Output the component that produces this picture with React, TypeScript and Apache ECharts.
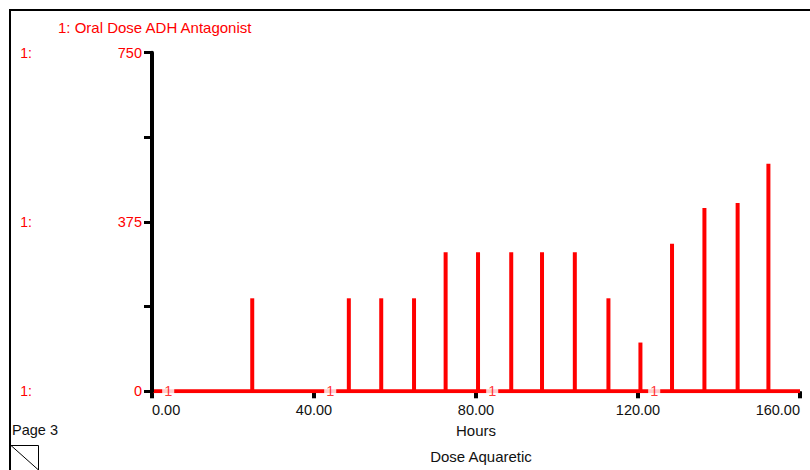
import React, { useEffect, useRef } from "react";
import * as echarts from "echarts";

const doseHours = [24.75, 48.6, 56.6, 64.7, 72.5, 80.5, 88.7, 96.3, 104.4, 112.7, 120.6, 128.4, 136.4, 144.6, 152.2];
const doseValues = [206, 206, 206, 206, 308, 308, 308, 308, 308, 206, 108, 327, 406, 417, 504];
const baselineHours = [0, 160];
const markerHours = [4, 44, 84, 124];
const xTicks = [0, 40, 80, 120, 160];
const yLabelValues = [0, 375, 750];

const FONT = "'Liberation Sans', Arial, sans-serif";
const RED = "#ff0000";

export default function App() {
  const ref = useRef<HTMLDivElement>(null);
  useEffect(() => {
    document.body.style.margin = "0";
    const chart = echarts.init(ref.current!, null, { renderer: "svg" });
    chart.setOption({
      animation: false,
      backgroundColor: "#ffffff",
      textStyle: { fontFamily: FONT },
      title: {
        text: "1: Oral Dose ADH Antagonist",
        left: 58,
        top: 20,
        padding: 0,
        textStyle: { color: RED, fontSize: 15, fontWeight: "normal", fontFamily: FONT },
      },
      grid: { left: 152, right: 10, top: 52.7, bottom: 78.7, containLabel: false },
      xAxis: {
        type: "value",
        min: 0,
        max: 160,
        interval: 40,
        offset: 2,
        name: "Hours",
        nameLocation: "middle",
        nameGap: 30,
        nameTextStyle: { color: "#111", fontSize: 15, fontFamily: FONT },
        axisLine: { show: true, lineStyle: { color: "#000", width: 1 } },
        axisTick: { show: true, length: 7, lineStyle: { color: "#000", width: 4 } },
        axisLabel: {
          color: "#111",
          fontSize: 14.5,
          margin: 9.5,
          fontFamily: FONT,
          alignMinLabel: "left",
          alignMaxLabel: "right",
          formatter: (v: number) => (xTicks.includes(v) ? v.toFixed(2) : ""),
        },
        splitLine: { show: false },
      },
      yAxis: [
        {
          type: "value",
          min: 0,
          max: 750,
          interval: 187.5,
          z: 5,
          axisLine: { show: true, lineStyle: { color: "#000", width: 4 } },
          axisTick: { show: true, length: 8, lineStyle: { color: "#000", width: 3 } },
          axisLabel: {
            color: RED,
            fontSize: 14.5,
            margin: 10,
            fontFamily: FONT,
            formatter: (v: number) => (yLabelValues.includes(v) ? String(v) : ""),
          },
          splitLine: { show: false },
        },
        {
          type: "value",
          position: "left",
          offset: 112,
          min: 0,
          max: 750,
          interval: 187.5,
          axisLine: { show: false },
          axisTick: { show: false },
          axisLabel: {
            color: RED,
            fontSize: 14,
            margin: 8,
            fontFamily: FONT,
            formatter: (v: number) => (yLabelValues.includes(v) ? "1:" : ""),
          },
          splitLine: { show: false },
        },
      ],
      series: [
        {
          type: "line",
          data: baselineHours.map((h) => [h, 0]),
          symbol: "none",
          lineStyle: { color: RED, width: 4 },
          z: 2,
        },
        {
          type: "bar",
          data: doseHours.map((h, i) => [h, doseValues[i]]),
          barWidth: 4,
          itemStyle: { color: RED },
          z: 3,
        },
        {
          type: "scatter",
          data: markerHours.map((h) => [h, 0]),
          symbolSize: 0,
          z: 10,
          label: {
            show: true,
            position: "inside",
            formatter: "1",
            color: RED,
            fontSize: 14.5,
            fontFamily: FONT,
            backgroundColor: "#ffffff",
            padding: [1, 2, 0, 2],
          },
        },
      ],
      graphic: [
        { type: "line", shape: { x1: 9, y1: 10, x2: 810, y2: 10 }, style: { stroke: "#000", lineWidth: 2 } },
        { type: "line", shape: { x1: 10, y1: 9, x2: 10, y2: 470 }, style: { stroke: "#000", lineWidth: 2 } },
        {
          type: "text",
          left: 12,
          top: 422,
          style: { text: "Page 3", fill: "#111", font: `14.5px ${FONT}` },
        },
        {
          type: "polyline",
          shape: { points: [[11, 445.5], [38.5, 445.5], [38.5, 470]] },
          style: { stroke: "#000", lineWidth: 1, fill: "none" },
        },
        { type: "line", shape: { x1: 11, y1: 445.5, x2: 38.5, y2: 470 }, style: { stroke: "#000", lineWidth: 1 } },
        {
          type: "text",
          x: 481,
          y: 456,
          style: { text: "Dose Aquaretic", fill: "#111", font: `15px ${FONT}`, textAlign: "center", textVerticalAlign: "middle" },
        },
      ],
    });
    return () => chart.dispose();
  }, []);
  return <div ref={ref} style={{ position: "fixed", left: 0, top: 0, width: 810, height: 470 }} />;
}
